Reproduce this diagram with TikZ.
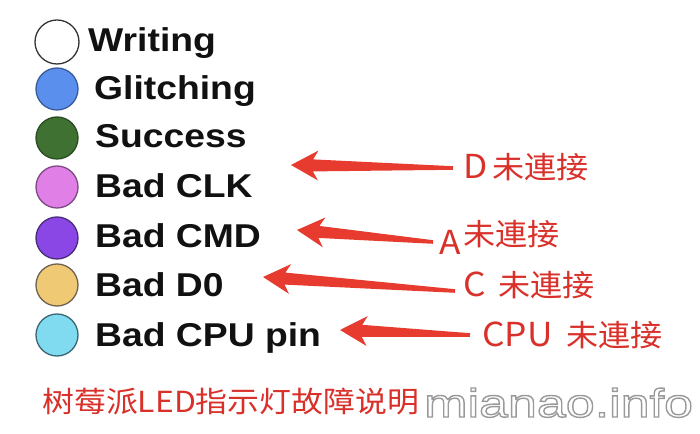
\documentclass[tikz,border=0pt]{standalone}
\usepackage{fontspec}
\usetikzlibrary{calc}
\newfontfamily\legendfont[FakeStretch=1.13]{Liberation Sans}
\newfontfamily\cjkfont[FakeStretch=1.07]{Noto Sans CJK SC}
\newfontfamily\capfont[FakeStretch=1.1]{Noto Sans CJK SC}
\newfontfamily\wmfont[FakeStretch=1.3]{Liberation Sans}
\definecolor{arrowred}{HTML}{E63B2E}
\definecolor{labelred}{HTML}{D9302A}
\definecolor{legblack}{HTML}{111111}
\definecolor{cblue}{HTML}{5A8FEE}
\definecolor{cblueE}{HTML}{3A5C99}
\definecolor{cgreen}{HTML}{3E7132}
\definecolor{cgreenE}{HTML}{2A4D22}
\definecolor{cpink}{HTML}{E07FE6}
\definecolor{cpinkE}{HTML}{7E4A84}
\definecolor{cpurple}{HTML}{8B46E6}
\definecolor{cpurpleE}{HTML}{4A2C7A}
\definecolor{ctan}{HTML}{F0C974}
\definecolor{ctanE}{HTML}{6E6250}
\definecolor{ccyan}{HTML}{80DBF1}
\definecolor{ccyanE}{HTML}{3A6674}
\newcommand{\fatarrow}[2]{%
  \fill[arrowred] (#1) -- ($(#1)!31pt!28.8:(#2)$) -- ($(#1)!22.8pt!15.3:(#2)$)
    -- ($(#2)!1.8pt!-90:(#1)$) -- ($(#2)!1.8pt!90:(#1)$)
    -- ($(#1)!22.8pt!-15.3:(#2)$) -- ($(#1)!31pt!-28.8:(#2)$) -- cycle;}
\newcommand{\outlinedtext}[1]{%
  \special{pdf:literal direct 0.6 0.6 0.6 RG 1.4 w 2 Tr}#1\special{pdf:literal direct 0 Tr}}
\begin{document}
\begin{tikzpicture}[x=1pt,y=1pt,
  dot/.style={circle, minimum size=42pt, inner sep=0pt, line width=1.3pt},
  legtext/.style={anchor=base west, inner sep=0pt, text=legblack,
    font=\legendfont\bfseries\fontsize{33}{40}\selectfont},
  redlabel/.style={anchor=west, inner sep=0pt, text=labelred,
    font=\cjkfont\fontsize{30}{34}\selectfont},
  caption/.style={anchor=west, inner sep=0pt, text=labelred,
    font=\capfont\fontsize{29}{34}\selectfont},
  watermark/.style={anchor=base west, inner sep=0pt, text=white,
    font=\wmfont\fontsize{40}{48}\selectfont}]
\useasboundingbox[fill=white] (0,0) rectangle (700,433);

% legend circles
\node[dot, minimum size=44pt, draw=legblack!85, fill=white] (cwriting) at (57,391) {};
\node[dot, draw=cblueE, fill=cblue] (cglitch) at (57,344) {};
\node[dot, draw=cgreenE, fill=cgreen] (csuccess) at (57,295) {};
\node[dot, draw=cpinkE, fill=cpink] (cclk) at (57,246) {};
\node[dot, draw=cpurpleE, fill=cpurple] (ccmd) at (57,195) {};
\node[dot, draw=ctanE, fill=ctan] (cdzero) at (57,148) {};
\node[dot, draw=ccyanE, fill=ccyan] (ccpu) at (57,98) {};

% legend texts
\node[legtext] (twriting) at (88,381) {Writing};
\node[legtext] (tglitch) at (94,333) {Glitching};
\node[legtext] (tsuccess) at (95,285) {Success};
\node[legtext] (tclk) at (95,235) {Bad CLK};
\node[legtext] (tcmd) at (95,185) {Bad CMD};
\node[legtext] (tdzero) at (95,136) {Bad D0};
\node[legtext] (tcpu) at (95,86) {Bad CPU pin};

% red labels
\node[redlabel] (ld) at (463,266) {{\fontsize{33}{34}\selectfont D}\hspace{5pt}未連接};
\node[redlabel] (la) at (439,196) {{\fontsize{33}{34}\selectfont A}\hspace{3pt}\raisebox{9pt}{未連接}};
\node[redlabel] (lc) at (463,148) {{\fontsize{33}{34}\selectfont C}\hspace{13pt}未連接};
\node[redlabel] (lcpu) at (482,98) {{\fontsize{33}{34}\selectfont CPU}\hspace{14pt}未連接};

% arrows
\coordinate (tipd) at (291,268);  \coordinate (taild) at (453,265);
\coordinate (tipa) at (297,203);  \coordinate (taila) at (433,191);
\coordinate (tipc) at (263,156);  \coordinate (tailc) at (455,142);
\coordinate (tipcpu) at (340,103); \coordinate (tailcpu) at (470,98);
\fatarrow{tipd}{taild}
\fatarrow{tipa}{taila}
\fatarrow{tipc}{tailc}
\fatarrow{tipcpu}{tailcpu}

% caption and watermark
\node[caption] (cap) at (42,31) {树莓派LED指示灯故障说明};
\node[watermark] (wm) at (424,16) {\outlinedtext{mianao.info}};
\end{tikzpicture}
\end{document}
